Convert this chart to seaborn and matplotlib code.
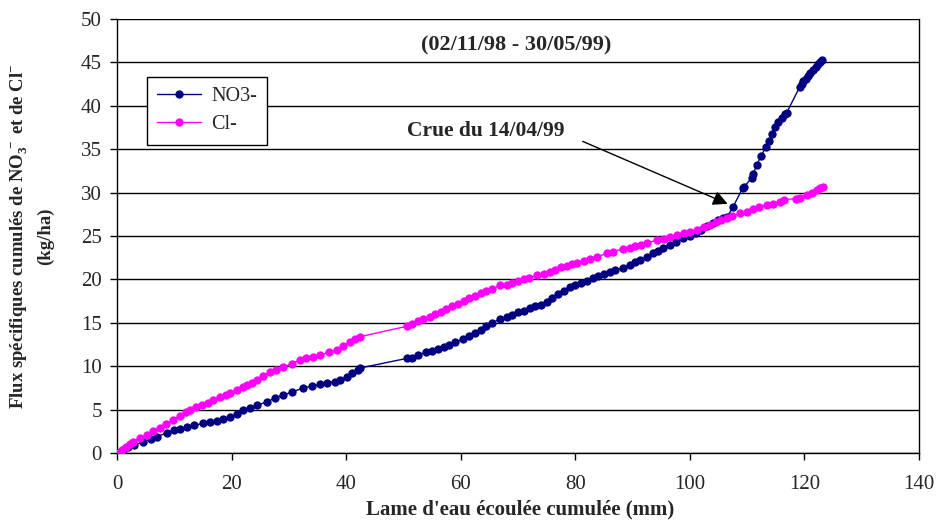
import matplotlib
matplotlib.use("Agg")
import matplotlib.pyplot as plt
import seaborn as sns
import pandas as pd

# ---- data ----
no3_x = [0.5, 1.0, 2.0, 3.0, 4.5, 6.0, 7.0, 8.7, 10.0, 11.0, 12.2, 13.5, 15.0, 16.2, 17.5, 18.5,
         19.7, 21.0, 22.0, 23.2, 24.5, 26.2, 27.5, 29.0, 30.5, 32.5, 34.0, 35.5, 36.6, 38.0, 39.0,
         40.1, 41.0, 42.0, 42.5, 50.6, 51.5, 52.5, 54.0, 55.0, 56.0, 57.0, 58.0, 59.0, 60.4, 61.5,
         62.5, 63.5, 64.5, 65.5, 66.8, 68.0, 69.0, 70.0, 71.0, 72.1, 73.0, 74.0, 75.0, 76.0, 77.0,
         78.0, 79.1, 80.0, 81.0, 82.0, 83.1, 84.0, 85.0, 86.0, 87.0, 88.3, 89.5, 90.5, 91.3, 92.5,
         93.5, 94.5, 95.3, 96.5, 97.5, 98.8, 100.0, 101.0, 102.0, 103.0, 104.0, 105.0, 105.8, 106.5,
         107.5, 109.2, 109.4, 110.8, 111.0, 111.7, 112.4, 113.3, 113.9, 114.3, 114.8, 115.4, 116.1,
         116.6, 116.9, 119.2, 119.5, 119.8, 120.2, 120.6, 121.0, 121.5, 122.0, 122.4, 122.8, 123.0]
no3_y = [0.0, 0.35, 0.7, 0.9, 1.27, 1.6, 1.9, 2.3, 2.6, 2.8, 3.0, 3.2, 3.4, 3.6, 3.7, 3.9,
         4.1, 4.5, 4.9, 5.2, 5.5, 5.9, 6.3, 6.7, 7.0, 7.5, 7.7, 7.9, 8.1, 8.2, 8.4,
         8.8, 9.2, 9.6, 9.8, 10.9, 11.0, 11.3, 11.6, 11.8, 12.0, 12.2, 12.5, 12.8, 13.1, 13.5,
         13.8, 14.2, 14.6, 15.0, 15.4, 15.7, 15.9, 16.2, 16.4, 16.7, 16.9, 17.1, 17.4, 17.8, 18.3,
         18.7, 19.1, 19.4, 19.6, 19.8, 20.2, 20.4, 20.6, 20.9, 21.1, 21.3, 21.7, 22.0, 22.2, 22.6,
         23.0, 23.3, 23.6, 24.0, 24.3, 24.8, 25.0, 25.3, 25.7, 26.1, 26.5, 26.8, 27.1, 27.2,
         28.3, 30.5, 30.6, 31.7, 32.1, 33.2, 34.2, 35.3, 35.9, 36.7, 37.6, 38.1, 38.6,
         39.0, 39.2, 42.2, 42.5, 42.8, 43.1, 43.4, 43.8, 44.1, 44.5, 44.8, 45.1, 45.3]

cl_x = [0.5, 0.9, 1.5, 2.2, 2.8, 4.0, 5.2, 6.3, 7.5, 8.5, 9.8, 11.0, 12.0, 12.7, 13.8, 14.8,
        15.8, 16.8, 18.0, 19.0, 19.7, 21.0, 22.0, 22.7, 23.5, 24.4, 25.5, 26.7, 27.8, 29.0, 30.5,
        31.9, 33.0, 34.2, 35.5, 37.0, 38.4, 39.5, 40.7, 41.5, 42.4, 50.6, 51.5, 52.5, 53.5, 54.6,
        55.5, 56.5, 57.5, 58.5, 59.5, 60.5, 61.5, 62.5, 63.5, 64.5, 65.5, 66.8, 68.0, 69.0, 70.0,
        71.0, 72.0, 73.3, 74.5, 75.6, 76.5, 77.5, 78.5, 79.5, 80.3, 81.5, 82.5, 83.8, 85.5, 86.5,
        88.3, 89.5, 90.5, 91.5, 92.5, 94.2, 95.5, 96.5, 97.7, 99.0, 100.0, 101.2, 102.5, 103.5,
        104.5, 105.5, 106.5, 107.3, 108.8, 109.9, 111.0, 112.0, 113.4, 114.5, 115.7, 116.5, 118.5,
        119.2, 120.4, 121.3, 122.2, 122.8, 123.2]
cl_y = [0.1, 0.35, 0.7, 1.0, 1.3, 1.7, 2.1, 2.5, 2.9, 3.3, 3.8, 4.3, 4.7, 5.0, 5.3, 5.5,
        5.8, 6.1, 6.4, 6.7, 6.9, 7.3, 7.6, 7.8, 8.1, 8.4, 8.9, 9.3, 9.6, 9.9, 10.3,
        10.7, 10.9, 11.1, 11.3, 11.6, 11.9, 12.3, 12.8, 13.1, 13.4, 14.6, 14.9, 15.2, 15.4, 15.7,
        16.0, 16.3, 16.6, 16.9, 17.2, 17.5, 17.8, 18.1, 18.4, 18.7, 18.9, 19.3, 19.4, 19.6, 19.8,
        20.0, 20.2, 20.5, 20.6, 20.8, 21.1, 21.4, 21.6, 21.8, 21.9, 22.1, 22.4, 22.6, 23.0, 23.2,
        23.5, 23.6, 23.8, 24.0, 24.2, 24.5, 24.7, 24.9, 25.1, 25.4, 25.5, 25.7, 26.0, 26.3,
        26.6, 26.9, 27.1, 27.3, 27.6, 27.8, 28.1, 28.3, 28.6, 28.7, 28.9, 29.2, 29.3,
        29.4, 29.7, 30.0, 30.3, 30.5, 30.7]

series_names = ["NO3-", "Cl-"]
series_colors = ["#000080", "#FF00FF"]
x_ticks = [0, 20, 40, 60, 80, 100, 120, 140]
y_ticks = [0, 5, 10, 15, 20, 25, 30, 35, 40, 45, 50]
title_text = "(02/11/98 - 30/05/99)"
annot_text = "Crue du 14/04/99"
x_label = "Lame d'eau écoulée cumulée (mm)"
y_label = "Flux spécifiques cumulés de NO$_{\\mathbf{3}}^{\\,-}$ et de Cl$^{-}$\n(kg/ha)"

df = pd.concat([
    pd.DataFrame({"lame": no3_x, "flux": no3_y, "ion": series_names[0]}),
    pd.DataFrame({"lame": cl_x, "flux": cl_y, "ion": series_names[1]}),
], ignore_index=True)

sns.set_style("ticks")
plt.rcParams["font.family"] = ["Liberation Serif", "DejaVu Serif"]
plt.rcParams["mathtext.fontset"] = "custom"
plt.rcParams["mathtext.rm"] = "Liberation Serif:bold"
plt.rcParams["mathtext.bf"] = "Liberation Serif:bold"
plt.rcParams["mathtext.default"] = "bf"

fig = plt.figure(figsize=(9.37, 5.20), dpi=100)
ax = fig.add_axes([117 / 937, 67 / 520, 802 / 937, 434 / 520])

sns.lineplot(data=df, x="lame", y="flux", hue="ion", palette=dict(zip(series_names, series_colors)),
             marker="o", markersize=6, markeredgewidth=0, linewidth=1, sort=False,
             estimator=None, ax=ax, zorder=3)

ax.set_xlim(0, 140)
ax.set_ylim(0, 50)
ax.set_xticks(x_ticks)
ax.set_yticks(y_ticks)
ax.tick_params(axis="both", direction="out", length=5, width=1, color="black",
               labelsize=15, pad=6)
ax.tick_params(axis="x", pad=11)
for s in ["left", "bottom", "right"]:
    ax.spines[s].set_color("black")
    ax.spines[s].set_linewidth(1)
ax.spines["top"].set_visible(False)
ax.yaxis.grid(True, color="black", linewidth=1)
ax.set_axisbelow(True)

ax.set_xlabel(x_label, fontsize=15, fontweight="bold")
ax.xaxis.set_label_coords(0.5025, -0.108)
ax.set_ylabel(y_label, fontsize=13.5, fontweight="bold", linespacing=1.55)
ax.yaxis.set_label_coords(-0.078, 0.5)

ax.text(69.6, 47.0, title_text, ha="center", va="center", fontsize=16, fontweight="bold")
ax.text(50.6, 37.1, annot_text, ha="left", va="center", fontsize=15.5, fontweight="bold")
ax.annotate("", xy=(106.6, 28.7), xytext=(81.3, 35.9),
            arrowprops=dict(arrowstyle="-|>", color="black", lw=1, mutation_scale=22,
                            shrinkA=0, shrinkB=0), zorder=4)

handles, labels = ax.get_legend_handles_labels()
leg = ax.legend(handles, labels, loc="upper left", bbox_to_anchor=(0.037, 0.866),
                borderaxespad=0, fancybox=False, framealpha=1, edgecolor="black",
                fontsize=14.5, handlelength=2.2, borderpad=0.5, labelspacing=0.45,
                handletextpad=0.5)
leg.get_frame().set_linewidth(1)

fig.savefig("out.png", dpi=100)
